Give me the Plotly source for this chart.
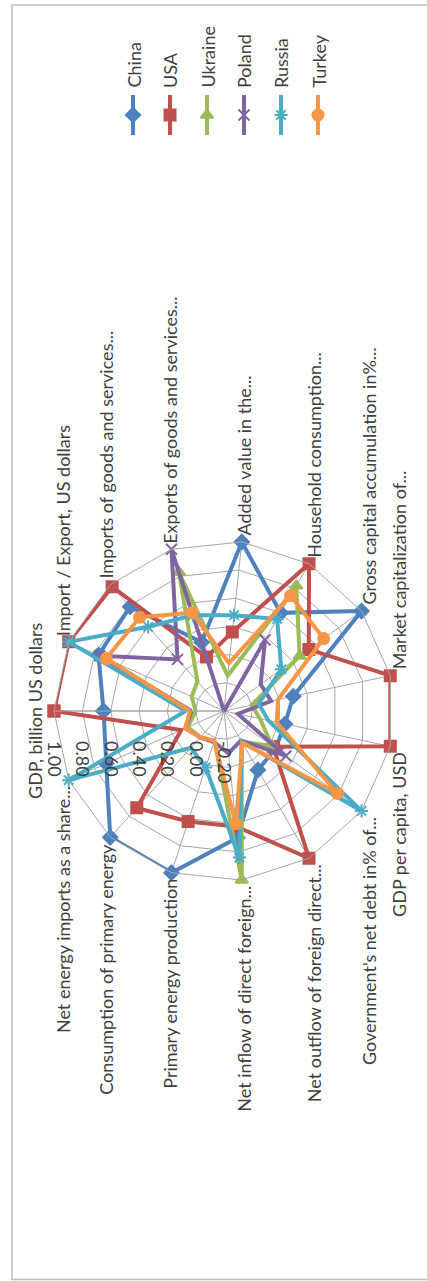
import math
import plotly.graph_objects as go

# ---- data -------------------------------------------------------------
categories = [
    "GDP, billion US dollars",
    "Import / Export, US dollars",
    "Imports of goods and services...",
    "Exports of goods and services...",
    "Added value in the...",
    "Household consumption...",
    "Gross capital accumulation in%...",
    "Market capitalization of...",
    "GDP per capita, USD",
    "Government's net debt in% of...",
    "Net outflow of foreign direct...",
    "Net inflow of direct foreign...",
    "Primary energy production",
    "Consumption of primary energy",
    "Net energy imports as a share...",
]

china = [0.65, 0.77, 0.79, 0.31, 1.00, 0.60, 1.00, 0.30, 0.24, 0.25, 0.28, 0.70, 1.00, 1.00, 0.71]
usa = [1.00, 1.00, 0.98, 0.20, 0.36, 1.00, 0.54, 1.00, 1.00, 0.23, 1.00, 0.62, 0.62, 0.72, 0.13]
ukraine = [0.00, 0.05, 0.08, 0.83, 0.05, 0.82, 0.46, 0.00, 0.06, 0.22, 0.05, 1.00, 0.02, 0.05, 0.08]
poland = [0.03, 0.76, 0.29, 1.00, -0.20, 0.38, 0.12, 0.14, -0.10, 0.34, 0.04, 0.10, 0.03, 0.05, 0.10]
russia = [0.07, 1.00, 0.60, 0.51, 0.48, 0.55, 0.30, 0.05, 0.12, 1.00, 0.05, 0.84, 0.22, 0.15, 1.00]
turkey = [0.04, 0.71, 0.69, 0.53, 0.14, 0.74, 0.67, 0.19, 0.18, 0.79, 0.06, 0.60, 0.02, 0.05, 0.10]

series_names = ["China", "USA", "Ukraine", "Poland", "Russia", "Turkey"]
series_values = [china, usa, ukraine, poland, russia, turkey]

radial_tickvals = [-0.2, 0.0, 0.2, 0.4, 0.6, 0.8, 1.0]
radial_ticktext = ["-0.20", "0.00", "0.20", "0.40", "0.60", "0.80", "1.00"]

# ---- styling ----------------------------------------------------------
W, H = 427, 1281
colors = ["#4F81BD", "#C0504D", "#9BBB59", "#8064A2", "#4BACC6", "#F79646"]
symbols = ["diamond", "square", "triangle-up", "x-thin-open", "asterisk-open", "circle"]
FONT = "Lato"
FSIZE = 18
TXT = "#404040"
GRID = "#A6A6A6"
LINE_W = 4
MARK = 11

# radar geometry in page pixels
CX, CY, R = 224, 711, 170
R_MIN, R_MAX = -0.2, 1.0


def px(x):
    return x / W


def py(y):
    return 1 - y / H


fig = go.Figure()

for name, vals, col, sym in zip(series_names, series_values, colors, symbols):
    fig.add_trace(go.Scatterpolar(
        r=vals + vals[:1],
        theta=categories + categories[:1],
        mode="lines+markers",
        name=name,
        line=dict(color=col, width=LINE_W),
        marker=dict(symbol=sym, size=MARK, color=col,
                    line=dict(color=col, width=2)),
        showlegend=False,
        subplot="polar",
    ))

fig.update_layout(
    width=W, height=H,
    margin=dict(l=0, r=0, t=0, b=0),
    paper_bgcolor="white",
    plot_bgcolor="rgba(0,0,0,0)",
    font=dict(family=FONT, color=TXT, size=FSIZE),
    polar=dict(
        domain=dict(x=[px(CX - R), px(CX + R)], y=[py(CY + R), py(CY - R)]),
        bgcolor="white",
        gridshape="linear",
        angularaxis=dict(
            rotation=180, direction="clockwise", type="category",
            categoryarray=categories,
            showticklabels=False, ticks="",
            showgrid=True, gridcolor=GRID, gridwidth=1,
            showline=True, linecolor=GRID, linewidth=1,
        ),
        radialaxis=dict(
            range=[R_MIN, R_MAX], angle=180,
            tickvals=radial_tickvals, ticktext=radial_ticktext,
            tickangle=-90, tickfont=dict(size=FSIZE, color=TXT, family=FONT),
            showgrid=True, gridcolor=GRID, gridwidth=1,
            showline=True, linecolor=GRID, linewidth=1,
            ticks="outside", ticklen=26, tickcolor="rgba(0,0,0,0)",
            side="counterclockwise",
        ),
    ),
    xaxis=dict(range=[0, W], visible=False, domain=[0, 1], fixedrange=True),
    yaxis=dict(range=[H, 0], visible=False, domain=[0, 1], fixedrange=True),
    showlegend=False,
)

# category labels, written upward just outside each spoke end
n = len(categories)
for k, label in enumerate(categories):
    th = math.radians(360 * k / n)
    vx = CX - R * math.cos(th)
    vy = CY - R * math.sin(th)
    if k == 0:
        x, y, ya = vx - 19, vy, "middle"
    elif k < n / 2:
        x, y, ya = vx - 8 * math.cos(th) + 1, vy - 4, "bottom"
    else:
        x, y, ya = vx - 8 * math.cos(th) + 1, vy + 4, "top"
    fig.add_annotation(x=x, y=y, xref="x", yref="y", text=label,
                       textangle=-90, showarrow=False,
                       xanchor="center", yanchor=ya,
                       font=dict(size=FSIZE, color=TXT, family=FONT))

# legend, stacked across the top right and turned like the rest
LEG_X0, LEG_DX = 133, 37
LEG_Y_TOP, LEG_Y_MID, LEG_Y_BOT, LEG_TXT = 95, 115, 135, 90
for i, (name, col, sym) in enumerate(zip(series_names, colors, symbols)):
    lx = LEG_X0 + LEG_DX * i
    fig.add_trace(go.Scatter(
        x=[lx, lx], y=[LEG_Y_TOP, LEG_Y_BOT], mode="lines",
        line=dict(color=col, width=LINE_W), hoverinfo="skip", showlegend=False,
    ))
    fig.add_trace(go.Scatter(
        x=[lx], y=[LEG_Y_MID], mode="markers",
        marker=dict(symbol=sym, size=MARK, color=col, line=dict(color=col, width=2)),
        hoverinfo="skip", showlegend=False,
    ))
    fig.add_annotation(x=lx, y=LEG_TXT, xref="x", yref="y", text=name,
                       textangle=-90, showarrow=False,
                       xanchor="center", yanchor="bottom",
                       font=dict(size=FSIZE, color=TXT, family=FONT))

# chart frame
fig.add_shape(type="rect", xref="x", yref="y", x0=12, y0=5, x1=W + 5, y1=H - 1.5,
              line=dict(color="#BFBFBF", width=1.5), fillcolor="rgba(0,0,0,0)",
              layer="below")

fig.write_html("out.html")
